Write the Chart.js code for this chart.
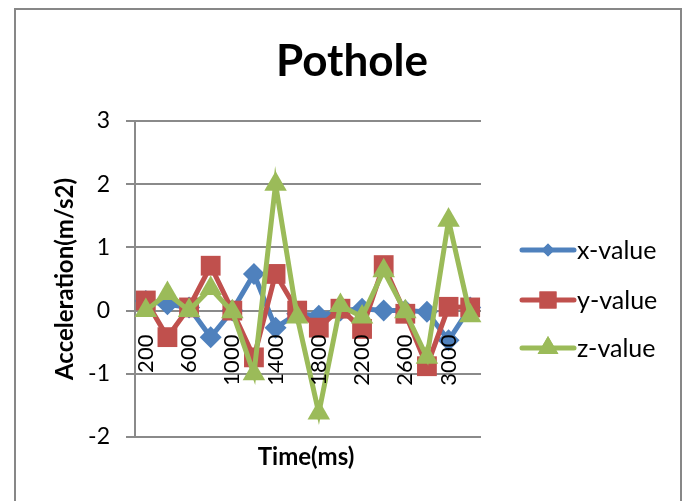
<!DOCTYPE html>
<html>
<head>
<meta charset="utf-8">
<script src="https://cdn.jsdelivr.net/npm/chart.js@4/dist/chart.umd.min.js"></script>
<style>
    html, body { margin: 0; padding: 0; background: #ffffff; }
    #wrap { position: relative; width: 692px; height: 501px; overflow: hidden; }
    #frame { position: absolute; left: 14px; top: 8px; width: 668px; height: 520px; border: 2px solid #878787; box-sizing: border-box; }
    canvas { position: absolute; left: 0; top: 0; }
</style>
</head>
<body>
<div id="wrap">
    <div id="frame"></div>
    <canvas id="potholeChart" width="692" height="501"></canvas>
</div>
<script>
// Data
const times = [200, 400, 600, 800, 1000, 1200, 1400, 1600, 1800, 2000, 2200, 2400, 2600, 2800, 3000, 3200];
const xValues = [0.15, 0.1, 0.05, -0.42, 0.0, 0.58, -0.27, -0.05, -0.08, 0.0, 0.03, 0.0, 0.0, -0.02, -0.47, 0.05];
const yValues = [0.16, -0.42, 0.05, 0.71, 0.0, -0.74, 0.58, 0.0, -0.27, 0.03, -0.29, 0.72, -0.05, -0.88, 0.06, 0.05];
const zValues = [0.0, 0.27, 0.0, 0.35, -0.02, -1.0, 2.0, -0.1, -1.62, 0.08, -0.1, 0.63, -0.02, -0.74, 1.43, -0.08];
const seriesNames = ['x-value', 'y-value', 'z-value'];
const yTicks = [-2, -1, 0, 1, 2, 3];

const FONT = "Lato, 'Open Sans', sans-serif";
const gridColor = '#8a8a8a';

const makeSeries = (label, data, color, style, radius, order) => ({
    label: label,
    data: data,
    borderColor: color,
    backgroundColor: color,
    borderWidth: 5,
    tension: 0,
    pointStyle: style,
    pointRadius: radius,
    pointBorderWidth: 0,
    pointBackgroundColor: color,
    order: order
});

// Excel-like legend: a short line with the marker in the middle
const lineLegend = {
    id: 'lineLegend',
    afterDraw(chart) {
        const ctx = chart.ctx;
        const rows = [250, 300, 348];
        const legendRadius = [6.5, 12, 12];
        ctx.save();
        chart.data.datasets.forEach((ds, i) => {
            const y = rows[i];
            ctx.strokeStyle = ds.borderColor;
            ctx.lineWidth = 5;
            ctx.lineCap = 'round';
            ctx.beginPath();
            ctx.moveTo(522, y);
            ctx.lineTo(574, y);
            ctx.stroke();
            ctx.fillStyle = ds.backgroundColor;
            Chart.helpers.drawPoint(ctx, { pointStyle: ds.pointStyle, radius: legendRadius[i], rotation: 0, borderWidth: 0 }, 548, y);
            ctx.fill();
            ctx.fillStyle = '#000000';
            ctx.font = '25px ' + FONT;
            ctx.textAlign = 'left';
            ctx.textBaseline = 'middle';
            ctx.fillText(ds.label, 577, y + 1);
        });

        // chart title and category axis title
        ctx.textAlign = 'center';
        ctx.textBaseline = 'alphabetic';
        ctx.font = 'bold 44px ' + FONT;
        ctx.fillText('Pothole', 352, 76);
        ctx.font = 'bold 24px ' + FONT;
        ctx.fillText('Time(ms)', 306, 465);
        ctx.restore();
    }
};

document.addEventListener('DOMContentLoaded', () => {
    const ctx = document.getElementById('potholeChart');

    new Chart(ctx, {
        type: 'line',
        data: {
            labels: times,
            datasets: [
                makeSeries(seriesNames[0], xValues, '#4F81BD', 'rectRot', 11, 3),
                makeSeries(seriesNames[1], yValues, '#C0504D', 'rect', 14, 2),
                makeSeries(seriesNames[2], zValues, '#9BBB59', 'triangle', 13, 1)
            ]
        },
        options: {
            responsive: false,
            animation: false,
            layout: {
                padding: { left: 45, top: 121, right: 211, bottom: 64 }
            },
            plugins: {
                legend: { display: false },
                title: { display: false },
                tooltip: { enabled: false }
            },
            scales: {
                x: {
                    position: { y: 0 },
                    offset: true,
                    grid: { display: false, drawTicks: false },
                    border: { display: false },
                    ticks: {
                        z: 1, // category labels sit on top of the series, as in Excel
                        autoSkip: false,
                        minRotation: 90,
                        maxRotation: 90,
                        padding: 24,
                        color: '#000000',
                        font: { family: FONT, size: 22 },
                        callback: function(value, index) {
                            return index % 2 === 0 ? times[index] : '';
                        }
                    }
                },
                y: {
                    min: yTicks[0],
                    max: yTicks[yTicks.length - 1],
                    afterFit: (scale) => { scale.width = 90; },
                    afterBuildTicks: (scale) => { scale.ticks = yTicks.map(v => ({ value: v })); },
                    grid: { color: gridColor, lineWidth: 2, tickLength: 9 },
                    border: { color: gridColor, width: 2 },
                    ticks: {
                        padding: 16,
                        color: '#000000',
                        font: { family: FONT, size: 23 }
                    },
                    title: {
                        display: true,
                        text: 'Acceleration(m/s2)',
                        color: '#000000',
                        padding: { top: 6, bottom: 0 },
                        font: { family: FONT, size: 24, weight: 'bold' }
                    }
                }
            }
        },
        plugins: [lineLegend]
    });
});
</script>
</body>
</html>
